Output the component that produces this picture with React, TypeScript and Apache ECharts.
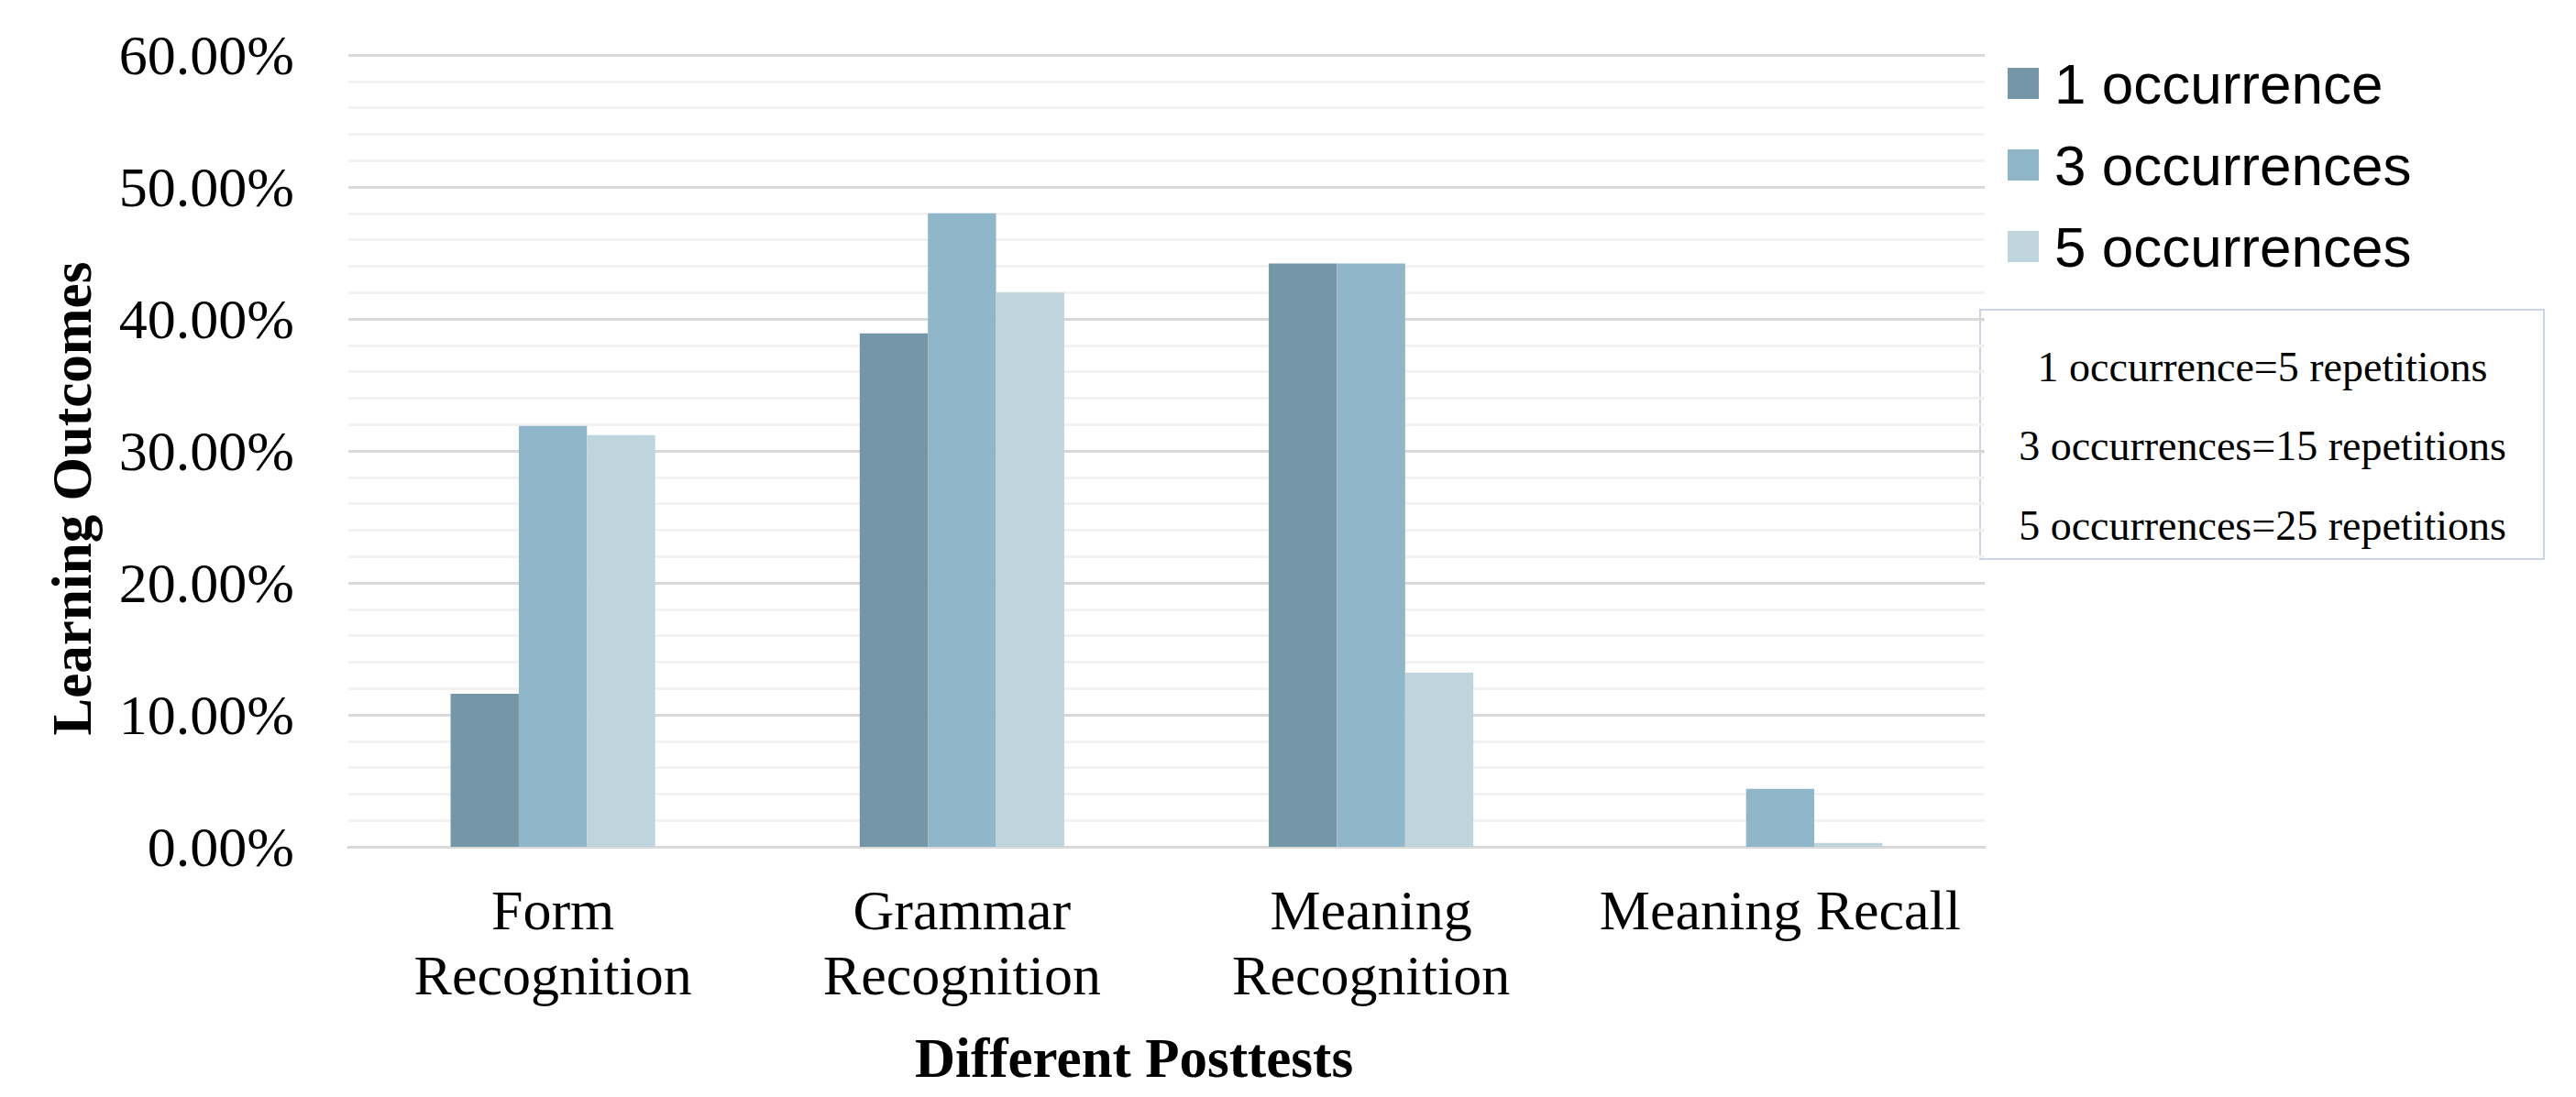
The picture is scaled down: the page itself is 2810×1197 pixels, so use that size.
import React, { useEffect, useRef } from "react";
import * as echarts from "echarts";

const categories = ["Form\nRecognition", "Grammar\nRecognition", "Meaning\nRecognition", "Meaning Recall"];
const seriesNames = ["1 occurrence", "3 occurrences", "5 occurrences"];
const oneOccurrence = [11.6, 38.9, 44.2, 0];
const threeOccurrences = [31.9, 48.0, 44.2, 4.4];
const fiveOccurrences = [31.2, 42.0, 13.2, 0.3];
const yMin = 0;
const yMax = 60;
const yInterval = 10;
const noteLines = [
  "1 occurrence=5 repetitions",
  "3 occurrences=15 repetitions",
  "5 occurrences=25 repetitions",
];
const yTitle = "Learning Outcomes";
const xTitle = "Different Posttests";

const colors = ["#7596a6", "#90b7c9", "#bed5de"];
const SERIF = "'Liberation Serif', 'Times New Roman', serif";
const SANS = "'Liberation Sans', Arial, sans-serif";

export default function App() {
  const ref = useRef<HTMLDivElement>(null);
  useEffect(() => {
    if (!ref.current) return;
    const chart = echarts.init(ref.current, undefined, { renderer: "svg" });
    const values = [oneOccurrence, threeOccurrences, fiveOccurrences];
    chart.setOption({
      animation: false,
      backgroundColor: "#ffffff",
      grid: { left: 380, right: 645, top: 60, bottom: 273, containLabel: false },
      xAxis: {
        type: "category",
        data: categories,
        axisLine: { show: true, lineStyle: { color: "#d9d9d9", width: 3 } },
        axisTick: { show: false },
        axisLabel: {
          fontFamily: SERIF,
          fontSize: 62,
          color: "#000",
          lineHeight: 71,
          margin: 33,
          interval: 0,
        },
      },
      yAxis: {
        type: "value",
        min: yMin,
        max: yMax,
        interval: yInterval,
        axisLine: { show: false },
        axisTick: { show: false },
        axisLabel: {
          fontFamily: SERIF,
          fontSize: 62,
          color: "#000",
          margin: 59,
          formatter: (v: number) => v.toFixed(2) + "%",
        },
        splitLine: { show: true, lineStyle: { color: "#d9d9d9", width: 3 } },
        minorTick: { show: false, splitNumber: 5 },
        minorSplitLine: { show: true, lineStyle: { color: "#f2f2f2", width: 3 } },
      },
      legend: {
        orient: "vertical",
        left: 2185,
        top: 55,
        icon: "rect",
        itemWidth: 34,
        itemHeight: 34,
        itemGap: 27,
        data: seriesNames,
        textStyle: {
          fontFamily: SANS,
          fontSize: 62,
          lineHeight: 62,
          color: "#000",
          padding: [0, 0, 0, 12],
        },
      },
      series: seriesNames.map((name, i) => ({
        name,
        type: "bar",
        data: values[i],
        barGap: "0%",
        barCategoryGap: "50%",
        itemStyle: { color: colors[i] },
      })),
      graphic: [
        {
          type: "text",
          x: 78,
          y: 544,
          rotation: Math.PI / 2,
          style: {
            text: yTitle,
            fontFamily: SERIF,
            fontWeight: "bold",
            fontSize: 61,
            fill: "#000",
            textAlign: "center",
            textVerticalAlign: "middle",
          },
        },
        {
          type: "text",
          x: 1237,
          y: 1154,
          style: {
            text: xTitle,
            fontFamily: SERIF,
            fontWeight: "bold",
            fontSize: 61,
            fill: "#000",
            textAlign: "center",
            textVerticalAlign: "middle",
          },
        },
        {
          type: "rect",
          shape: { x: 2160, y: 338, width: 615, height: 272 },
          style: { fill: "#ffffff", stroke: "#c9d6ea", lineWidth: 2 },
        },
        ...noteLines.map((t, i) => ({
          type: "text",
          x: 2468,
          y: 400 + i * 86.5,
          style: {
            text: t,
            fontFamily: SERIF,
            fontSize: 46,
            fill: "#000",
            textAlign: "center",
            textVerticalAlign: "middle",
          },
        })),
      ],
    });
    return () => chart.dispose();
  }, []);
  return (
    <div
      ref={ref}
      style={{ position: "fixed", left: 0, top: 0, width: 2810, height: 1197, background: "#fff" }}
    />
  );
}
